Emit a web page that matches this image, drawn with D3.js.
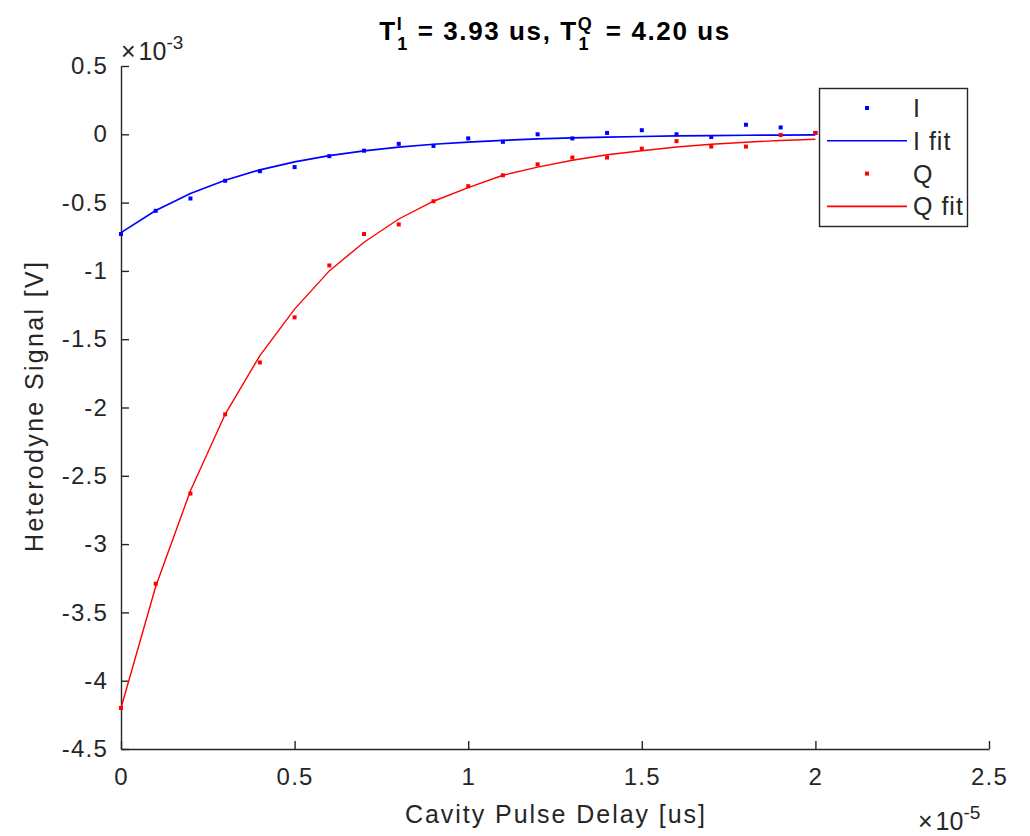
<!DOCTYPE html>
<html>
<head>
<meta charset="utf-8">
<script src="https://cdn.jsdelivr.net/npm/d3@7"></script>
<style>
  body { margin: 0; background: #fff; }
  svg { font-family: "Liberation Sans", Arial, Helvetica, sans-serif; }
  .axis text { fill: #262626; font-size: 24px; letter-spacing: 1.2px; }
  .axis path, .axis line { stroke: #262626; stroke-width: 1.4; }
  .lbl { fill: #262626; font-size: 25px; }
</style>
</head>
<body>
<svg id="chart" width="1030" height="836"></svg>
<script>
// delay in units of 1e-5 s, signal in units of 1e-3 V
const delay = [0, 0.1, 0.2, 0.3, 0.4, 0.5, 0.6, 0.7, 0.8, 0.9, 1.0,
               1.1, 1.2, 1.3, 1.4, 1.5, 1.6, 1.7, 1.8, 1.9, 2.0]

const iData = [-0.73, -0.56, -0.47, -0.34, -0.27, -0.24, -0.16, -0.12, -0.07, -0.085, -0.03,
               -0.055, 0.0, -0.03, 0.01, 0.03, 0.0, -0.02, 0.07, 0.05, 0.01]
const iFit  = [-0.72, -0.558, -0.433, -0.336, -0.26, -0.202, -0.156, -0.121, -0.094, -0.073, -0.057,
               -0.044, -0.034, -0.026, -0.02, -0.016, -0.012, -0.01, -0.007, -0.006, -0.004]

const qData = [-4.2, -3.29, -2.63, -2.05, -1.67, -1.34, -0.96, -0.73, -0.66, -0.49, -0.38,
               -0.3, -0.22, -0.17, -0.17, -0.105, -0.05, -0.09, -0.09, -0.005, 0.01]
const qFit  = [-4.2, -3.31, -2.61, -2.05, -1.62, -1.28, -1.0, -0.79, -0.62, -0.49, -0.39,
               -0.3, -0.24, -0.19, -0.15, -0.12, -0.093, -0.073, -0.058, -0.045, -0.036]

const xTicks = [0, 0.5, 1, 1.5, 2, 2.5]
const yTicks = [-4.5, -4, -3.5, -3, -2.5, -2, -1.5, -1, -0.5, 0, 0.5]

const legendItems = [
  {name: "I", color: "#0000ff", type: "dot"},
  {name: "I fit", color: "#0000ff", type: "line"},
  {name: "Q", color: "#ff0000", type: "dot"},
  {name: "Q fit", color: "#ff0000", type: "line"}
]

var margin = {top: 66, right: 41, bottom: 87, left: 121}
  , width = 1030 - margin.left - margin.right
  , height = 836 - margin.top - margin.bottom

var svg = d3.select("#chart")

var x = d3.scaleLinear().domain([0, 2.5]).range([0, width])
var y = d3.scaleLinear().domain([-4.5, 0.5]).range([height, 0])

const fmt = d => String(d)

var graph = svg.append("g")
    .attr("transform", "translate(" + margin.left + "," + margin.top + ")")

graph.append("g")
    .attr("class", "axis")
    .attr("transform", "translate(0," + height + ")")
    .call(d3.axisBottom(x).tickValues(xTicks).tickFormat(fmt)
        .tickSizeInner(-8).tickSizeOuter(0).tickPadding(19))

graph.append("g")
    .attr("class", "axis")
    .call(d3.axisLeft(y).tickValues(yTicks).tickFormat(fmt)
        .tickSizeInner(-8).tickSizeOuter(0).tickPadding(13))

graph.selectAll(".axis").attr("font-family", null).attr("font-size", null)

// fit lines
var line = d3.line()
    .x((d, i) => x(delay[i]))
    .y(d => y(d))

graph.append("path")
    .datum(iFit)
    .attr("fill", "none")
    .attr("stroke", "#0000ff")
    .attr("stroke-width", 1.7)
    .attr("d", line)

graph.append("path")
    .datum(qFit)
    .attr("fill", "none")
    .attr("stroke", "#ff0000")
    .attr("stroke-width", 1.4)
    .attr("d", line)

// data dots
graph.selectAll("rect.idot")
    .data(iData)
    .enter().append("rect")
    .attr("class", "idot")
    .attr("x", (d, i) => x(delay[i]) - 2)
    .attr("y", d => y(d) - 2)
    .attr("width", 4)
    .attr("height", 4)
    .attr("fill", "#0000ff")

graph.selectAll("rect.qdot")
    .data(qData)
    .enter().append("rect")
    .attr("class", "qdot")
    .attr("x", (d, i) => x(delay[i]) - 2)
    .attr("y", d => y(d) - 2)
    .attr("width", 4)
    .attr("height", 4)
    .attr("fill", "#ff0000")

// title
const title = svg.append("text")
    .attr("x", 555)
    .attr("y", 40)
    .attr("text-anchor", "middle")
    .attr("font-size", 26)
    .attr("font-weight", "bold")
    .attr("letter-spacing", 1.6)
    .attr("fill", "#000")
title.append("tspan").text("T")
title.append("tspan").attr("dy", -10).attr("font-size", 18).text("I")
title.append("tspan").attr("dx", -6).attr("dy", 20).attr("font-size", 18).text("1")
title.append("tspan").attr("dy", -10).text(" = 3.93 us, T")
title.append("tspan").attr("dy", -10).attr("font-size", 18).text("Q")
title.append("tspan").attr("dx", -15).attr("dy", 20).attr("font-size", 18).text("1")
title.append("tspan").attr("dx", 7).attr("dy", -10).text(" = 4.20 us")

// axis labels
svg.append("text")
    .attr("class", "lbl")
    .attr("x", 405)
    .attr("y", 823)
    .attr("textLength", 300)
    .attr("lengthAdjust", "spacing")
    .text("Cavity Pulse Delay [us]")

svg.append("text")
    .attr("class", "lbl")
    .attr("transform", "translate(43, 552) rotate(-90)")
    .attr("textLength", 290)
    .attr("lengthAdjust", "spacing")
    .text("Heterodyne Signal [V]")

// exponent labels
const ey = svg.append("text")
    .attr("class", "lbl")
    .attr("x", 121)
    .attr("y", 60)
    .attr("font-size", 26)
ey.append("tspan").text("\u00d7")
ey.append("tspan").attr("dx", 3).text("10")
ey.append("tspan").attr("dy", -11).attr("font-size", 19).text("-3")

const ex = svg.append("text")
    .attr("class", "lbl")
    .attr("x", 918)
    .attr("y", 830)
    .attr("font-size", 26)
ex.append("tspan").text("\u00d7")
ex.append("tspan").attr("dx", 3).text("10")
ex.append("tspan").attr("dy", -11).attr("font-size", 19).text("-5")

// legend
const legend = svg.append("g").attr("class", "legend")

legend.append("rect")
    .attr("x", 819.5)
    .attr("y", 88.5)
    .attr("width", 148)
    .attr("height", 138)
    .attr("fill", "#fff")
    .attr("stroke", "#262626")
    .attr("stroke-width", 1.4)

legendItems.forEach((item, i) => {
    const cy = 108 + i * 32.8
    if (item.type === "dot") {
        legend.append("rect")
            .attr("x", 865).attr("y", cy - 2)
            .attr("width", 4).attr("height", 4)
            .attr("fill", item.color)
    } else {
        legend.append("line")
            .attr("x1", 827).attr("x2", 907)
            .attr("y1", cy).attr("y2", cy)
            .attr("stroke", item.color)
            .attr("stroke-width", 1.6)
    }
    legend.append("text")
        .attr("class", "lbl")
        .attr("x", 913)
        .attr("y", cy + 9)
        .attr("font-size", 23)
        .attr("letter-spacing", 1)
        .text(item.name)
})
</script>
</body>
</html>
